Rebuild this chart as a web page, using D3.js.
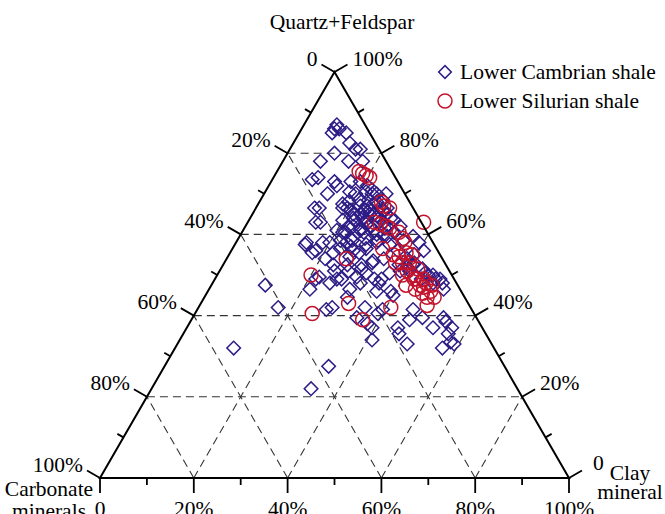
<!DOCTYPE html>
<html><head><meta charset="utf-8">
<script src="https://cdn.jsdelivr.net/npm/d3@7/dist/d3.min.js"></script>
<style>body{margin:0;background:#fff}svg{display:block}text{font-family:"Liberation Serif","Times New Roman",serif;fill:#000}</style>
</head><body><svg id="c" width="665" height="514"></svg>
<script>
// Ternary data: [clay %, quartz+feldspar %]; carbonate = 100 - clay - quartz
const cambrian = [
[7,87],[7,86],[7,85],[8,86],[10,85],[12,82.5],[14,81],[15,81],[10,80],[8,78],[14,78],[17,78],
[9.5,74],[13.5,73],[14.5,72],[17,73],[19,73],[13.5,70],[19.5,70],[21,72],[23,70],[24,70],[26,68.5],
[25,68],[23.5,67],[26.5,66.5],[28,66.5],[23.5,66],[25,65],[28.5,65],[30,64],[23,65],[22.5,63.5],
[28,63],[26.5,62],[25,61.5],[22,62],[22,60.5],[30,61.5],[32.5,60.5],[33,62],[35.5,58.5],[24,59],
[22,58.5],[20,58],[15.5,63],[12.5,66.5],[15,57.5],[18,56],[21,54],[23.5,52.5],[23,56.5],[26,56],
[28,57.5],[30,58.5],[33,57.5],[35.5,56],[38.5,54],[40.5,53],[43,51.5],[45,50],[40.5,51],[37.5,52.5],
[33.5,54],[31.5,53],[30,51.5],[27.5,51],[27,49],[25,48],[22,49.5],[21.5,46.5],[27.5,41.5],[28.5,42],
[30.5,44.5],[30,46.5],[31.5,48],[35.5,42],[38,38],[39.5,37],[41,34],[35,39.5],[35.5,48],[36,46],
[39,46],[40,45],[39.5,41.5],[39,40.5],[45,37],[46,35.5],[49,33],[46.5,39],[46,41.5],[49,39.5],
[52.5,37],[53.5,39.5],[54.5,38.5],[56.5,37],[56.5,35.5],[58,33.5],[57,32],[59,33],[47,49],[49,48],
[35,27.5],[34,22],[11.5,47.5],[17,42],[12.5,32],[24.5,51],[37,59.5],[39,58],[41,56],[39.5,55],
[44,50.5],[46,50],[48,49],[50,46.5],[47,48],[44,49],[40.5,52.5],[39.5,52],[38.5,51],[36.5,50.5],
[35.5,49],[34,49],[31.5,50.5],[30,49.5],[29.5,52.5],[31.5,53.5],[26.5,52.5],[26,54.5],[27.5,55.5],
[28.5,56.5],[30,58],[31.5,59.5],[32.5,60.5],[23.5,58],[24.5,58.5],[25,61],[23,62],[21.5,60.5],
[20,63.5],[21.5,65],[23.5,65.5],[19.5,66.5],[22,67],[24.5,67.5],[27.5,66],[27,64.5],[31,63.5],
[13.5,66.5],[18.5,66.5],[14.5,63],[15,58],[17.5,55.5],[22,55.5],[18.5,58],[25,57],[21.5,49],[26,49],
[18,67.5],[8.5,73.5],[18,70.5],[21,68.5],[19,68],[22.5,71],[20.5,66],[26,70],[25,63.5],[24,64],
[29,60],[27,59],[26,60.5],[20,61],[21.5,70.5],[23,68.5],[24.5,66],[26,65],[27.5,64],[29,63],
[22,64],[25.5,62.5],[28,61],[30.5,60]
];
const silurian = [
[17.5,75.5],[18.5,75],[19.5,74.5],[20.5,74],[26,68],[27,67],[28.5,66.5],[27,63],[28.5,62.5],[30,62],
[31,61.5],[37.5,63],[33.5,60.5],[35,59],[36,58],[32,56.5],[35,55],[36.5,54.5],[37.5,55.5],[39,55],
[36.5,53],[38,53],[40,51],[41.5,50],[43,49],[44.5,49],[45.5,48],[47,47.5],[49,44.5],[41.5,47.5],
[44,46.5],[46,45.5],[42.5,49],[25.5,54],[31.5,43],[41,42],[47.5,44.5],[25,40.5],[36.5,39],[48.5,42.5],
[45.5,47],[20,50],[39.5,53],[42,51.5],[44.5,47.5],[39.5,50],[47.5,46]
];
const gridLevels = [20,40,60,80];
const tickValues = [0,10,20,30,40,50,60,70,80,90,100];
const seriesNames = ["Lower Cambrian shale","Lower Silurian shale"];
const seriesColors = ["#2e1c86","#c3132c"];
const axisTitles = {top:"Quartz+Feldspar", left:["Carbonate","minerals"], right:["Clay","mineral"]};

const svg = d3.select("#c");
const xScale = d3.scaleLinear().domain([0,100]).range([100,569]);
const yScale = d3.scaleLinear().domain([0,100]).range([478,72]);
// project (clay, quartz) to screen
const P = (clay, q) => [xScale(clay + q/2), yScale(q)];
const line = d3.line();

// dashed grid
const g = svg.append("g").attr("fill","none").attr("stroke","#333").attr("stroke-width",1.1).attr("stroke-dasharray","8,5");
gridLevels.forEach(v => {
  g.append("path").attr("d", line([P(0,v), P(100-v,v)]));      // const quartz
  g.append("path").attr("d", line([P(v,0), P(v,100-v)]));      // const clay
  g.append("path").attr("d", line([P(100-v,0), P(0,100-v)]));  // const carbonate
});

// points
const sym = d3.symbol().type(d3.symbolSquare).size(92);
svg.append("g").selectAll("path").data(cambrian).join("path")
  .attr("d", sym).attr("transform", d => { const p = P(d[0],d[1]); return `translate(${p[0]},${p[1]}) rotate(45)`; })
  .attr("fill","none").attr("stroke",seriesColors[0]).attr("stroke-width",1.5);
svg.append("g").selectAll("circle").data(silurian).join("circle")
  .attr("cx", d => P(d[0],d[1])[0]).attr("cy", d => P(d[0],d[1])[1]).attr("r",7)
  .attr("fill","none").attr("stroke",seriesColors[1]).attr("stroke-width",1.5);

// triangle
svg.append("path").attr("d", line([P(0,0),P(100,0),P(0,100)]) + "Z")
  .attr("fill","none").attr("stroke","#000").attr("stroke-width",2);

// ticks
const tk = svg.append("g").attr("stroke","#000").attr("stroke-width",1.8);
const fs = 21.5;
const lab = svg.append("g").attr("font-size", fs+"px");
const c30 = Math.cos(Math.PI/6), s30 = 0.5;
const fmt = t => t===0 ? "0" : t+"%";
tickValues.forEach(t => {
  const len = t % 20 === 0 ? 15 : 7;
  const major = t % 20 === 0;
  // bottom: clay
  let p = P(t,0);
  tk.append("line").attr("x1",p[0]).attr("y1",p[1]).attr("x2",p[0]).attr("y2",p[1]+len);
  if (major) lab.append("text").attr("x",p[0]).attr("y",p[1]+38).attr("text-anchor","middle").text(fmt(t));
  // left: carbonate (0 at apex)
  p = P(0,100-t);
  let e = [p[0]-len*c30, p[1]-len*s30];
  tk.append("line").attr("x1",p[0]).attr("y1",p[1]).attr("x2",e[0]).attr("y2",e[1]);
  if (major) lab.append("text").attr("x",e[0]-4).attr("y",e[1]+1).attr("text-anchor","end").text(fmt(t));
  // right: quartz (0 at bottom right)
  p = P(100-t,t);
  e = [p[0]+len*c30, p[1]-len*s30];
  tk.append("line").attr("x1",p[0]).attr("y1",p[1]).attr("x2",e[0]).attr("y2",e[1]);
  if (major) lab.append("text").attr("x",e[0]+(t===0?11:5)).attr("y",e[1]+(t===0?-1:1)).attr("text-anchor","start").text(fmt(t));
});

// axis titles
lab.append("text").attr("x",342).attr("y",29).attr("text-anchor","middle").text(axisTitles.top);
lab.append("text").attr("x",49).attr("y",496).attr("text-anchor","middle").text(axisTitles.left[0]);
lab.append("text").attr("x",49).attr("y",518).attr("text-anchor","middle").text(axisTitles.left[1]);
lab.append("text").attr("x",630).attr("y",480).attr("text-anchor","middle").text(axisTitles.right[0]);
lab.append("text").attr("x",630).attr("y",499).attr("text-anchor","middle").text(axisTitles.right[1]);

// legend
const lg = svg.append("g");
lg.append("path").attr("d", d3.symbol().type(d3.symbolSquare).size(80)()).attr("transform","translate(445,72) rotate(45)")
  .attr("fill","none").attr("stroke",seriesColors[0]).attr("stroke-width",1.5);
lg.append("circle").attr("cx",445).attr("cy",101).attr("r",7).attr("fill","none").attr("stroke",seriesColors[1]).attr("stroke-width",1.5);
lg.append("text").attr("x",460).attr("y",79).attr("font-size",fs+"px").text(seriesNames[0]);
lg.append("text").attr("x",460).attr("y",108).attr("font-size",fs+"px").text(seriesNames[1]);
</script></body></html>
